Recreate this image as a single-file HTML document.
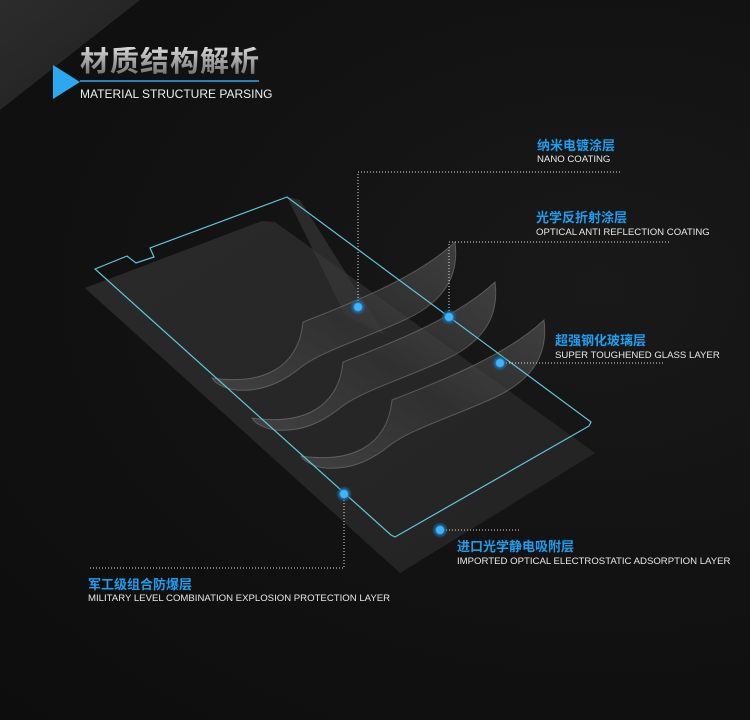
<!DOCTYPE html>
<html><head><meta charset="utf-8"><style>
html,body{margin:0;padding:0;background:#111;}
#c{position:relative;width:750px;height:720px;overflow:hidden;background:radial-gradient(ellipse at 80% 40%,#191919 0%,#121212 50%,#0d0d0d 100%);font-family:"Liberation Sans","Noto Sans CJK SC",sans-serif;}
.t{position:absolute;white-space:nowrap;}
.cn{color:#1e9ef0;font-weight:bold;font-size:13px;line-height:14px;}
.en{color:#e8e8e8;font-size:9.6px;line-height:11px;}
</style></head><body><div id="c">
<svg width="750" height="720" style="position:absolute;left:0;top:0">
<defs>
<linearGradient id="bg" x1="0" y1="0" x2="1" y2="1"><stop offset="0" stop-color="#2c2c2c"/><stop offset="1" stop-color="#202020"/></linearGradient>
<linearGradient id="sh" x1="0" y1="0" x2="1" y2="1"><stop offset="0" stop-color="#2a2a2a"/><stop offset="1" stop-color="#232323"/></linearGradient>
<linearGradient id="cu" x1="0" y1="1" x2="1" y2="0"><stop offset="0" stop-color="#555" stop-opacity=".55"/><stop offset=".5" stop-color="#363636" stop-opacity=".6"/><stop offset="1" stop-color="#666" stop-opacity=".5"/></linearGradient>
<radialGradient id="dg"><stop offset=".45" stop-color="#3db4ff"/><stop offset=".6" stop-color="#1b6fa8" stop-opacity=".8"/><stop offset="1" stop-color="#1b6fa8" stop-opacity="0"/></radialGradient>
</defs>
<polygon points="0,0 140,0 0,110" fill="url(#bg)"/>
<polygon points="85,288 262,221 275,222 595,453 400,573" fill="url(#sh)"/>
<polygon points="287,197 300,200 385,335 345,315" fill="#3a3a3a" opacity=".6"/>
<g id="s1">
<path d="M303,322 C360,300 420,275 455,242 C460,280 440,305 400,322 C360,340 320,352 300,368 C280,384 260,392 235,390 C222,388 214,382 212,378 C260,385 298,370 303,322 Z" fill="url(#cu)" stroke="#888" stroke-opacity=".5" stroke-width="1"/>
</g>
<use href="#s1" transform="translate(40,40)"/>
<use href="#s1" transform="translate(89,78)"/>
<path d="M95,269 L127,256 L136,263 L154,257 L150,248 L287,197 L591,422 L589,426 L395,537 L391,535 Z" fill="none" stroke="#5ec8dc" stroke-width="1.2"/>
<g stroke="#ddd" stroke-width="1" stroke-dasharray="1,2" fill="none">
<path d="M358,307 V172 H620"/>
<path d="M449,317 V242 H670"/>
<path d="M500,363 H663"/>
<path d="M440,530 H520"/>
<path d="M344,494 V568 H88"/>
</g>
<g fill="url(#dg)">
<circle cx="358" cy="307" r="8"/><circle cx="449" cy="317" r="8"/><circle cx="500" cy="363" r="8"/><circle cx="440" cy="530" r="8"/><circle cx="344" cy="494" r="8"/>
</g>
<polygon points="53,65 80,82 53,99" fill="#2aa8f0"/>
<line x1="80" y1="81" x2="259" y2="81" stroke="#2aa8f0" stroke-width="1.5"/>
</svg>
<div class="t" style="left:80px;top:47px;font-size:29px;font-weight:bold;line-height:31px;letter-spacing:1px;color:#8a8a8a;background:linear-gradient(#d8d8d8,#666);-webkit-background-clip:text;background-clip:text;-webkit-text-fill-color:transparent;">材质结构解析</div>
<div class="t" style="left:80px;top:87px;font-size:12px;color:#eee;">MATERIAL STRUCTURE PARSING</div>
<div class="t cn" style="left:537px;top:139px">纳米电镀涂层</div>
<div class="t en" style="left:537px;top:154px">NANO COATING</div>
<div class="t cn" style="left:536px;top:211px">光学反折射涂层</div>
<div class="t en" style="left:536px;top:227px">OPTICAL ANTI REFLECTION COATING</div>
<div class="t cn" style="left:555px;top:334px">超强钢化玻璃层</div>
<div class="t en" style="left:555px;top:350px">SUPER TOUGHENED GLASS LAYER</div>
<div class="t cn" style="left:457px;top:540px">进口光学静电吸附层</div>
<div class="t en" style="left:457px;top:556px">IMPORTED OPTICAL ELECTROSTATIC ADSORPTION LAYER</div>
<div class="t cn" style="left:88px;top:578px">军工级组合防爆层</div>
<div class="t en" style="left:88px;top:593px">MILITARY LEVEL COMBINATION EXPLOSION PROTECTION LAYER</div>
</div></body></html>
